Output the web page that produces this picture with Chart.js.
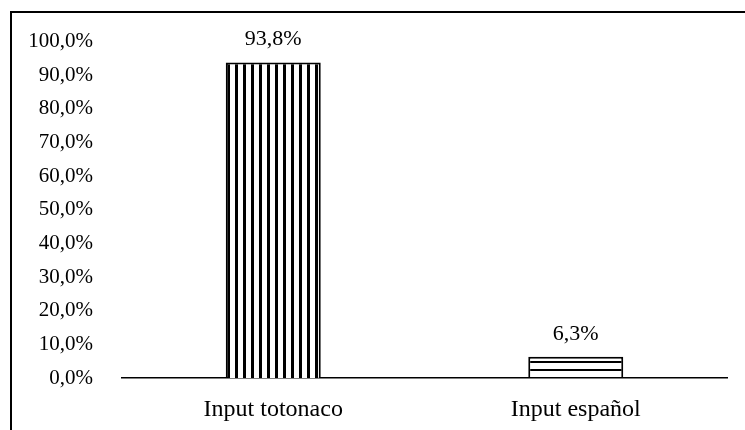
<!DOCTYPE html>
<html>
<head>
<meta charset="utf-8">
<script src="https://cdn.jsdelivr.net/npm/chart.js@4"></script>
<style>
  body { margin: 0; background: #fff; overflow: hidden; }
  #frame { position: absolute; left: 10px; top: 11px; width: 800px; height: 500px; border: 2px solid #000; }
  #wrap { position: absolute; left: 0; top: 0; width: 745px; height: 430px; }
</style>
</head>
<body>
<div id="frame"></div>
<div id="wrap"><canvas id="canvas" width="745" height="430"></canvas></div>
<script>
// data
const categories = ['Input totonaco', 'Input español'];
const values = [93.8, 6.3];
const valueLabels = ['93,8%', '6,3%'];

const FAMILY = '"Liberation Serif", "Times New Roman", serif';

// striped fills like the original
function makeStripes(vertical) {
    const c = document.createElement('canvas');
    c.width = 8;
    c.height = 8;
    const g = c.getContext('2d');
    g.fillStyle = '#fff';
    g.fillRect(0, 0, 8, 8);
    g.fillStyle = '#000';
    if (vertical) {
        g.fillRect(3, 0, 3, 8);
    } else {
        g.fillRect(0, 1, 8, 2);
    }
    return g.createPattern(c, 'repeat');
}

const barLabels = {
    id: 'barLabels',
    afterDatasetsDraw(chart) {
        const ctx = chart.ctx;
        const meta = chart.getDatasetMeta(0);
        ctx.save();
        ctx.fillStyle = '#000';
        ctx.font = '22px ' + FAMILY;
        ctx.textAlign = 'center';
        ctx.textBaseline = 'middle';
        meta.data.forEach(function (bar, i) {
            ctx.fillText(valueLabels[i], bar.x, bar.y - 23);
        });
        ctx.restore();
    }
};

const ctx = document.getElementById('canvas').getContext('2d');
const myChart = new Chart(ctx, {
    type: 'bar',
    data: {
        labels: categories,
        datasets: [{
            data: values,
            backgroundColor: [makeStripes(true), makeStripes(false)],
            borderColor: '#000',
            borderWidth: 2,
            barPercentage: 0.314,
            categoryPercentage: 1
        }]
    },
    options: {
        responsive: false,
        animation: false,
        layout: { padding: { left: 0, right: 18, top: 41, bottom: 0 } },
        plugins: {
            legend: { display: false },
            tooltip: { enabled: false }
        },
        scales: {
            x: {
                grid: { display: false },
                border: { display: true, color: '#000', width: 1.5 },
                ticks: { color: '#000', font: { family: FAMILY, size: 24 }, padding: 9, maxRotation: 0 },
                afterFit: function (scale) { scale.height = 52; }
            },
            y: {
                min: 0,
                max: 100,
                grid: { display: false, drawTicks: false },
                border: { display: false },
                ticks: {
                    stepSize: 10,
                    color: '#000',
                    font: { family: FAMILY, size: 21 },
                    padding: 29,
                    callback: function (value) {
                        return value.toFixed(1).replace('.', ',') + '%';
                    }
                },
                afterFit: function (scale) { scale.width = 122; }
            }
        }
    },
    plugins: [barLabels]
});
</script>
</body>
</html>
